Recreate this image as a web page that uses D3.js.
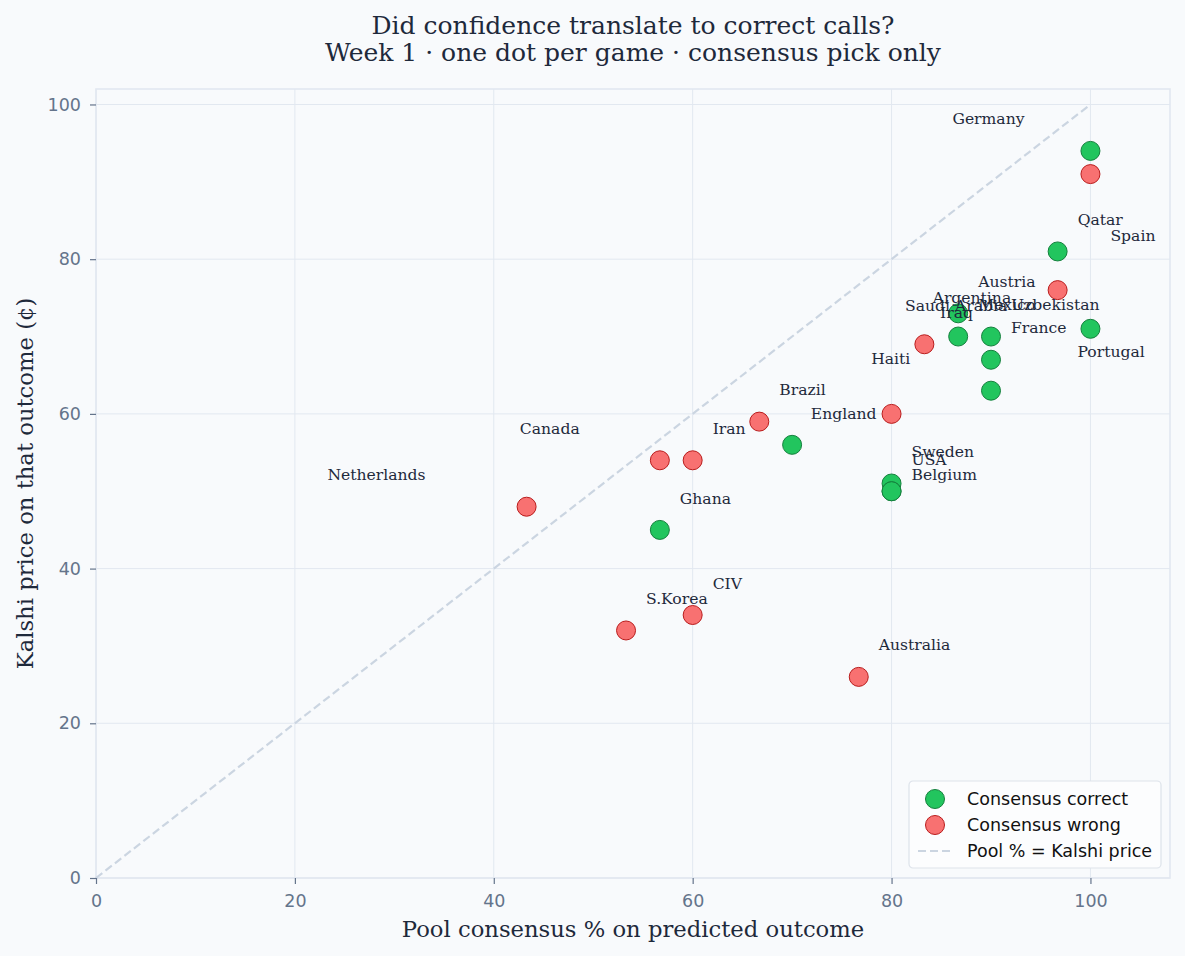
<!DOCTYPE html>
<html>
<head>
<meta charset="utf-8">
<script src="https://cdn.jsdelivr.net/npm/d3@7"></script>
<style>
  html, body { margin: 0; padding: 0; background: #f8fafc; }
  svg { display: block; }
</style>
</head>
<body>
<div id="plot"></div>
<script>
// Week 1 consensus picks: pool % vs Kalshi price

var teams = ['Germany', 'Spain', 'Qatar', 'Austria', 'Mexico', 'Uzbekistan', 'France', 'Portugal',
  'Argentina', 'Saudi Arabia', 'Iraq', 'Haiti', 'Brazil', 'Iran', 'Canada', 'England',
  'Netherlands', 'Ghana', 'Sweden', 'USA', 'Belgium', 'CIV', 'S.Korea', 'Australia'];
var poolPct = [100, 100, 96.7, 86.7, 86.7, 90, 90, 100,
  96.7, 90, 70, 83.3, 66.7, 60, 56.7, 80,
  43.3, 56.7, 80, 80, 80, 60, 53.3, 76.7];
var kalshiPrice = [94, 91, 81, 73, 70, 70, 67, 71,
  76, 63, 56, 69, 59, 54, 54, 60,
  48, 45, 51, 50, 50, 34, 32, 26];
var consensusCorrect = [true, false, true, true, true, true, true, true,
  false, true, true, false, false, false, false, false,
  false, true, true, true, true, false, false, false];
var xTicks = [0, 20, 40, 60, 80, 100];
var yTicks = [0, 20, 40, 60, 80, 100];
var legendLabels = ['Consensus correct', 'Consensus wrong', 'Pool % = Kalshi price'];

// where each name sits next to its dot (pixels), default is up-right
var labelPlace = {
  'Germany': [-138, -32, 'start'],
  'Canada': [-140, -32, 'start'],
  'Spain': [20, 61, 'start'],
  'Portugal': [-13, 23, 'start'],
  'Argentina': [-125, 7, 'start'],
  'Saudi Arabia': [-86, -85, 'start'],
  'Iraq': [148, -132, 'start'],
  'Haiti': [-14, 14, 'end'],
  'England': [-15, 0, 'end'],
  'Netherlands': [-101, -32, 'end'],
  'Belgium': [20, -17, 'start']
};

var games = teams.map(function (t, i) {
  return { team: t, pool: poolPct[i], price: kalshiPrice[i], correct: consensusCorrect[i] };
});

var W = 1185, H = 956;
var margin = { t: 89, r: 15, b: 78, l: 96 };
var width = W - margin.l - margin.r,
  height = H - margin.t - margin.b;

var serif = "'DejaVu Serif', serif",
  sans = "'DejaVu Sans', sans-serif";
var ink = '#1e293b', muted = '#64748b', grid = '#e2e8f0';
var green = '#22c55e', greenEdge = '#15803d', red = '#f87171', redEdge = '#b91c1c';

var svg = d3.select('#plot')
  .append('svg')
  .attr('width', W)
  .attr('height', H)
  .style('background', '#f8fafc');

var plot = svg.append('g')
  .attr('transform', 'translate(' + margin.l + ',' + margin.t + ')');

var x = d3.scaleLinear().domain([0, 108]).range([0, width]);
var y = d3.scaleLinear().domain([0, 102]).range([height, 0]);

// grid
plot.append('g').selectAll('line').data(xTicks).join('line')
  .attr('x1', function (d) { return x(d); })
  .attr('x2', function (d) { return x(d); })
  .attr('y1', 0).attr('y2', height)
  .style('stroke', grid).style('stroke-width', 1);
plot.append('g').selectAll('line').data(yTicks).join('line')
  .attr('y1', function (d) { return y(d); })
  .attr('y2', function (d) { return y(d); })
  .attr('x1', 0).attr('x2', width)
  .style('stroke', grid).style('stroke-width', 1);

// frame
plot.append('rect')
  .attr('width', width).attr('height', height)
  .style('fill', 'none').style('stroke', grid).style('stroke-width', 1.6);

// diagonal
plot.append('line')
  .attr('x1', x(0)).attr('y1', y(0))
  .attr('x2', x(100)).attr('y2', y(100))
  .style('stroke', '#cbd5e1').style('stroke-width', 2.2)
  .style('stroke-dasharray', '8,4');

// axes
var xAxis = plot.append('g')
  .attr('transform', 'translate(0,' + height + ')')
  .call(d3.axisBottom(x).tickValues(xTicks).tickSize(6).tickPadding(11).tickSizeOuter(0));
var yAxis = plot.append('g')
  .call(d3.axisLeft(y).tickValues(yTicks).tickSize(6).tickPadding(9).tickSizeOuter(0));
[xAxis, yAxis].forEach(function (a) {
  a.select('.domain').remove();
  a.selectAll('.tick line').style('stroke', muted).style('stroke-width', 1.2);
  a.selectAll('.tick text').style('fill', muted).style('font-family', sans).style('font-size', '17.5px');
});

// dots
plot.append('g').selectAll('circle').data(games).join('circle')
  .attr('cx', function (d) { return x(d.pool); })
  .attr('cy', function (d) { return y(d.price); })
  .attr('r', 9.5)
  .style('fill', function (d) { return d.correct ? green : red; })
  .style('stroke', function (d) { return d.correct ? greenEdge : redEdge; })
  .style('stroke-width', 1);

// names
plot.append('g').selectAll('text').data(games).join('text')
  .attr('x', function (d) { return x(d.pool) + (labelPlace[d.team] || [20])[0]; })
  .attr('y', function (d) { return y(d.price) + (labelPlace[d.team] || [20, -32])[1]; })
  .attr('dy', '0.36em')
  .attr('text-anchor', function (d) { return (labelPlace[d.team] || [0, 0, 'start'])[2]; })
  .style('font-family', serif).style('font-size', '15.6px').style('fill', ink)
  .text(function (d) { return d.team; });

// titles
svg.append('text')
  .attr('x', margin.l + width / 2).attr('y', 34)
  .attr('text-anchor', 'middle')
  .style('font-family', serif).style('font-size', '25px').style('fill', ink)
  .text('Did confidence translate to correct calls?');
svg.append('text')
  .attr('x', margin.l + width / 2).attr('y', 61)
  .attr('text-anchor', 'middle')
  .style('font-family', serif).style('font-size', '25px').style('fill', ink)
  .text('Week 1 · one dot per game · consensus pick only');

svg.append('text')
  .attr('x', margin.l + width / 2).attr('y', 937)
  .attr('text-anchor', 'middle')
  .style('font-family', serif).style('font-size', '22.7px').style('fill', ink)
  .text('Pool consensus % on predicted outcome');
svg.append('text')
  .attr('transform', 'translate(33,' + (margin.t + height / 2) + ') rotate(-90)')
  .attr('text-anchor', 'middle')
  .style('font-family', serif).style('font-size', '22.7px').style('fill', ink)
  .text('Kalshi price on that outcome (¢)');

// legend
var lg = plot.append('g')
  .attr('transform', 'translate(' + (width - 261) + ',' + (height - 97) + ')');
lg.append('rect')
  .attr('width', 252).attr('height', 87).attr('rx', 4)
  .style('fill', '#fcfdfe').style('stroke', '#dde3ea').style('stroke-width', 1.2);
legendLabels.forEach(function (lab, i) {
  var cy = 18 + i * 26;
  if (i < 2) {
    lg.append('circle')
      .attr('cx', 26).attr('cy', cy).attr('r', 9.5)
      .style('fill', i === 0 ? green : red)
      .style('stroke', i === 0 ? greenEdge : redEdge).style('stroke-width', 1);
  } else {
    lg.append('line')
      .attr('x1', 9).attr('x2', 43).attr('y1', cy).attr('y2', cy)
      .style('stroke', '#cbd5e1').style('stroke-width', 2.2)
      .style('stroke-dasharray', '8,4');
  }
  lg.append('text')
    .attr('x', 58).attr('y', cy).attr('dy', '0.35em')
    .style('font-family', sans).style('font-size', '17.5px').style('fill', '#111')
    .text(lab);
});
</script>
</body>
</html>
